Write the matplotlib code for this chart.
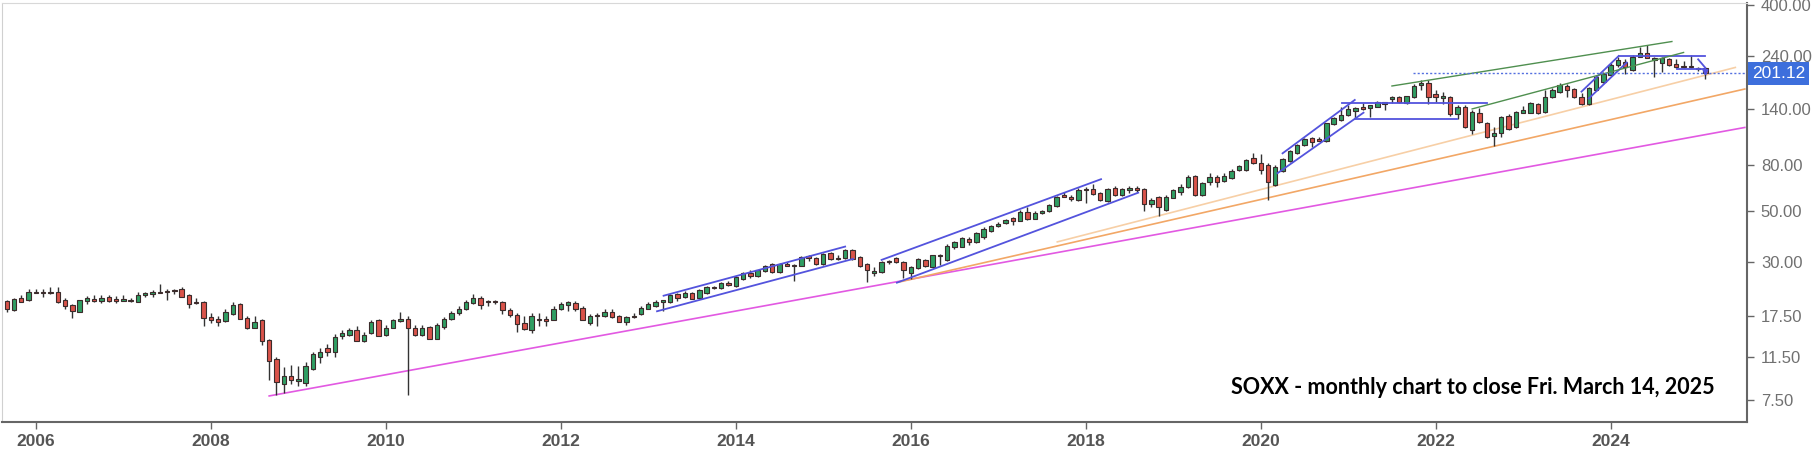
import matplotlib
matplotlib.use('Agg')
import matplotlib.pyplot as plt
import numpy as np
import pandas as pd

# monthly candles, Oct 2005 .. Mar 2025
opens = [
    20.2, 18.5, 21.0, 20.4, 22.3, 22.1, 21.9, 22.3, 20.4, 19.5, 18.2, 20.3,
    20.7, 20.3, 21.1, 20.8, 20.3, 20.4, 20.1, 21.6, 21.8, 22.3, 22.2, 22.4,
    23.0, 21.5, 20.0, 20.1, 17.2, 16.9, 16.6, 17.8, 19.6, 17.1, 15.5, 16.7,
    13.7, 11.3, 8.81, 9.55, 9.05, 8.87, 10.2, 11.6, 12.6, 12.1, 14.2, 14.4,
    15.1, 13.5, 14.7, 16.8, 14.4, 15.5, 16.6, 16.9, 15.5, 14.4, 15.6, 13.9,
    15.6, 17.0, 17.9, 18.7, 19.8, 21.0, 20.0, 20.3, 20.0, 18.6, 17.7, 16.2,
    15.1, 16.8, 17.0, 16.8, 18.7, 19.4, 19.8, 19.0, 16.2, 17.7, 17.5, 18.1,
    17.5, 16.4, 17.2, 17.8, 18.8, 19.2, 20.0, 20.0, 21.8, 21.1, 22.1, 21.0,
    22.0, 23.3, 23.1, 24.3, 23.7, 25.3, 26.9, 26.0, 27.4, 29.4, 27.2, 29.6,
    28.9, 29.0, 31.8, 31.3, 29.5, 32.9, 31.3, 31.2, 34.0, 31.7, 29.5, 26.9,
    27.2, 30.0, 31.2, 30.1, 27.0, 28.3, 30.7, 28.7, 31.8, 30.7, 34.8, 35.1,
    38.0, 36.6, 38.8, 41.1, 43.2, 44.5, 46.7, 45.6, 49.9, 46.4, 49.4, 50.1,
    53.0, 58.8, 57.7, 56.2, 62.1, 62.7, 60.0, 55.6, 63.3, 59.0, 62.1, 63.3,
    62.7, 53.8, 58.0, 50.5, 57.5, 61.1, 63.8, 71.5, 59.0, 67.6, 71.0, 67.9,
    70.3, 75.9, 75.9, 85.9, 81.8, 79.9, 65.3, 75.4, 83.4, 89.8, 97.7, 104.4,
    103.4, 102.0, 120.7, 125.7, 132.1, 138.0, 143.6, 142.2, 143.6, 147.1, 154.8, 159.1,
    149.1, 158.6, 178.7, 182.9, 162.7, 156.5, 158.9, 133.4, 143.6, 113.6, 135.2, 121.6,
    107.0, 110.0, 131.2, 116.8, 135.2, 135.2, 147.6, 136.0, 158.9, 167.1, 176.9, 171.6,
    158.9, 147.6, 169.9, 184.8, 197.6, 218.6, 226.0, 207.9, 237.7, 247.5, 229.8, 224.0,
    231.4, 220.1, 216.4, 213.6, 213.0, 211.5,
]
highs = [
    20.4, 21.0, 21.6, 22.9, 22.9, 22.9, 23.3, 23.3, 20.9, 19.6, 20.6, 21.4,
    21.6, 21.5, 21.6, 21.4, 21.6, 21.0, 22.3, 22.3, 22.7, 24.2, 22.8, 23.0,
    23.4, 21.7, 21.0, 20.2, 17.9, 17.4, 18.7, 20.1, 19.9, 17.4, 17.5, 16.9,
    13.8, 11.6, 10.4, 10.7, 10.5, 11.0, 12.1, 12.6, 13.1, 14.6, 15.2, 15.5,
    15.8, 14.9, 16.8, 17.0, 15.9, 17.0, 18.1, 17.4, 15.9, 16.0, 15.7, 16.2,
    17.2, 18.4, 19.2, 20.5, 21.7, 21.4, 20.4, 20.4, 20.3, 19.0, 17.9, 17.4,
    17.9, 17.9, 17.4, 19.2, 20.1, 20.3, 20.2, 19.2, 17.8, 17.9, 18.7, 18.8,
    17.7, 17.4, 17.9, 19.2, 20.0, 20.4, 20.5, 21.8, 22.1, 22.5, 22.3, 22.8,
    23.6, 23.6, 24.6, 24.8, 26.2, 27.3, 27.6, 27.8, 29.3, 29.7, 29.9, 30.0,
    29.5, 31.8, 32.4, 31.6, 32.9, 33.4, 32.4, 34.4, 34.2, 32.0, 29.9, 28.7,
    30.4, 30.7, 31.6, 30.4, 28.9, 31.2, 31.0, 32.4, 32.6, 35.9, 37.2, 38.8,
    38.6, 40.7, 42.9, 43.7, 45.0, 46.2, 47.5, 50.8, 52.2, 50.4, 50.8, 53.8,
    58.4, 60.6, 58.8, 63.6, 63.8, 65.8, 61.0, 63.5, 64.8, 63.3, 64.6, 64.6,
    63.3, 57.5, 58.4, 58.8, 62.9, 66.0, 72.2, 72.2, 67.4, 73.5, 72.2, 73.5,
    76.4, 80.1, 84.8, 89.9, 89.1, 81.8, 79.9, 85.4, 92.6, 98.7, 105.1, 106.2,
    106.2, 122.4, 130.0, 143.6, 146.1, 143.6, 149.5, 146.0, 152.7, 151.2, 160.2, 159.9,
    160.2, 180.0, 187.9, 187.9, 169.9, 167.1, 160.0, 145.7, 145.7, 139.0, 141.4, 123.6,
    117.5, 130.8, 133.0, 137.4, 144.6, 151.2, 149.5, 169.9, 172.8, 181.8, 180.0, 173.9,
    165.4, 175.6, 197.0, 204.6, 222.4, 236.3, 231.4, 241.7, 262.7, 267.3, 237.7, 237.7,
    233.9, 231.4, 227.5, 241.7, 215.0, 212.9,
]
lows = [
    18.1, 18.4, 20.0, 20.3, 21.9, 21.2, 21.8, 19.8, 18.8, 17.1, 18.1, 19.6,
    20.1, 19.8, 20.1, 19.8, 20.2, 20.1, 20.0, 21.1, 21.1, 22.0, 20.4, 21.8,
    21.1, 18.9, 19.7, 15.7, 16.3, 15.7, 16.5, 17.7, 16.9, 15.3, 15.4, 13.0,
    9.14, 7.86, 8.07, 8.78, 8.63, 8.63, 10.1, 10.9, 11.7, 11.6, 13.8, 14.2,
    13.5, 13.4, 14.6, 14.2, 14.3, 15.4, 16.5, 7.88, 14.3, 14.3, 13.8, 13.8,
    15.3, 16.8, 17.7, 18.6, 19.7, 18.7, 19.3, 19.7, 17.8, 17.3, 14.9, 15.1,
    14.7, 15.7, 15.7, 16.7, 18.6, 18.3, 18.4, 16.7, 15.9, 15.8, 17.3, 17.1,
    16.4, 15.9, 17.1, 17.7, 18.7, 19.1, 18.3, 19.9, 20.3, 21.0, 20.7, 20.9,
    21.8, 22.9, 23.0, 23.7, 23.4, 25.1, 25.7, 25.8, 27.2, 27.0, 27.0, 28.8,
    24.9, 28.8, 30.5, 29.2, 29.2, 30.7, 30.7, 31.0, 30.7, 28.7, 24.5, 26.0,
    27.0, 29.4, 29.8, 25.5, 25.3, 28.0, 28.7, 28.4, 29.2, 30.4, 34.4, 34.8,
    35.7, 36.4, 37.9, 40.8, 42.9, 44.1, 43.7, 45.3, 45.9, 46.2, 48.8, 49.6,
    52.5, 57.7, 55.6, 55.8, 54.3, 58.8, 55.8, 55.2, 58.4, 58.6, 60.0, 60.7,
    50.4, 52.2, 47.8, 50.0, 57.1, 59.0, 63.2, 58.4, 58.6, 65.3, 64.2, 67.3,
    69.6, 75.2, 75.2, 80.4, 72.9, 56.2, 64.6, 74.7, 82.6, 89.2, 96.7, 95.5,
    101.7, 101.0, 119.5, 124.8, 130.8, 127.8, 139.0, 129.1, 142.8, 139.0, 149.4, 149.1,
    148.1, 156.9, 169.9, 147.6, 150.3, 148.1, 130.8, 126.9, 115.6, 109.1, 121.8, 104.4,
    96.7, 105.6, 113.6, 115.6, 134.1, 134.1, 133.4, 135.2, 157.4, 165.4, 157.9, 157.4,
    146.1, 146.6, 168.7, 181.8, 195.6, 215.0, 199.6, 206.5, 236.3, 234.0, 194.3, 204.2,
    216.4, 211.5, 211.5, 211.5, 206.5, 189.8,
]
closes = [
    18.7, 20.8, 20.1, 22.3, 22.0, 22.2, 22.3, 20.1, 19.3, 18.4, 20.4, 20.9,
    20.2, 20.9, 20.2, 20.3, 20.7, 20.3, 21.6, 22.0, 22.2, 22.1, 22.5, 22.7,
    21.2, 19.6, 19.8, 17.1, 16.7, 16.5, 18.2, 19.4, 17.0, 15.4, 16.5, 13.6,
    11.1, 9.0, 9.55, 9.17, 9.23, 10.5, 11.9, 12.2, 12.2, 14.1, 14.7, 15.2,
    13.6, 14.4, 16.5, 14.3, 15.5, 16.8, 17.0, 15.5, 14.4, 15.5, 13.9, 15.9,
    16.9, 17.9, 18.8, 20.0, 21.0, 19.5, 20.3, 20.0, 18.5, 17.6, 16.1, 15.3,
    17.5, 17.0, 16.6, 18.7, 19.6, 20.0, 18.8, 16.8, 17.4, 17.5, 18.1, 17.2,
    16.5, 17.2, 17.5, 19.0, 19.6, 20.0, 20.4, 21.5, 21.0, 22.1, 20.8, 22.6,
    23.3, 23.1, 24.4, 23.9, 25.9, 26.9, 26.0, 27.6, 28.9, 27.2, 29.6, 29.0,
    29.3, 31.6, 31.3, 29.5, 32.5, 31.0, 30.9, 33.9, 31.0, 29.0, 27.8, 27.5,
    30.1, 30.4, 30.2, 27.8, 28.5, 30.9, 28.9, 32.1, 32.2, 35.4, 36.8, 38.2,
    36.6, 40.3, 41.8, 43.2, 44.1, 45.9, 45.2, 49.9, 46.2, 49.4, 50.4, 53.2,
    58.0, 58.0, 56.8, 62.1, 62.7, 59.4, 56.2, 63.0, 59.0, 62.7, 63.3, 62.1,
    53.8, 56.2, 52.2, 58.0, 62.1, 64.2, 71.0, 59.0, 66.4, 71.0, 67.6, 71.5,
    75.2, 79.1, 84.0, 81.3, 75.9, 67.6, 78.6, 84.6, 91.7, 97.7, 103.7, 100.4,
    102.0, 121.6, 128.3, 132.1, 140.0, 141.4, 140.4, 145.7, 151.2, 150.3, 158.6, 150.3,
    159.9, 176.9, 182.9, 157.9, 158.9, 160.0, 133.4, 143.6, 116.8, 136.7, 122.5, 105.6,
    110.0, 129.2, 114.5, 135.6, 139.0, 148.6, 135.2, 158.9, 169.9, 178.7, 169.9, 158.9,
    147.6, 172.8, 194.3, 199.0, 218.6, 229.8, 215.0, 237.7, 247.5, 235.4, 233.9, 233.9,
    218.6, 213.6, 213.6, 216.4, 209.6, 201.12,
]

year_labels = ['2006', '2008', '2010', '2012', '2014', '2016', '2018', '2020', '2022', '2024']
price_ticks = [7.5, 11.5, 17.5, 30, 50, 80, 140, 240, 400]
title = 'SOXX - monthly chart to close Fri. March 14, 2025'

# drawn trend lines: ((bar index, price), (bar index, price))
support_line = ((36.0, 7.8), (238.4, 116.5))
orange_lines = [((122.5, 24.6), (238.4, 171.6)), ((144.1, 36.8), (237.1, 213.2))]
blue_lines = [
    ((90.1, 21.4), (115.0, 35.1)), ((89.2, 18.3), (116.1, 31.0)),
    ((120.0, 30.7), (150.1, 69.2)), ((122.1, 24.4), (155.2, 60.4)),
    ((175.0, 89.8), (184.9, 153.7)), ((174.3, 73.5), (186.1, 135.2)),
    ((183.1, 148.6), (203.0, 148.6)), ((185.0, 127.3), (198.9, 127.3)),
    ((216.0, 167.1), (221.1, 239.3)), ((217.0, 156.0), (222.2, 224.0)),
    ((221.1, 239.3), (233.0, 239.3)), ((229.1, 210.0), (233.0, 210.0)),
    ((232.0, 231.4), (233.0, 212.2)),
]
green_lines = [((190.0, 176.9), (228.4, 276.8)), ((201.0, 140.4), (230.0, 247.9))]

months = pd.period_range('2005-10', periods=len(closes), freq='M')
x = np.arange(len(months))
o = np.array(opens); h = np.array(highs); l = np.array(lows); c = np.array(closes)
year_pos = [np.where((months.year == int(y)) & (months.month == 1))[0][0] + 1 for y in year_labels]

W, H = 1813, 449
fig = plt.figure(figsize=(W / 100, H / 100), dpi=100)
ax = fig.add_axes([2 / W, 27 / H, 1745 / W, 419 / H])
ax.set_yscale('log')
ax.set_xlim(-0.645, 238.7)
ax.set_ylim(6.0, 408)

# trend lines
(a, b) = support_line
ax.plot([a[0], b[0]], [a[1], b[1]], color='#e259e2', lw=1.2, zorder=2)
for (a, b), col in zip(orange_lines, ['#f2a766', '#f7cfa6']):
    ax.plot([a[0], b[0]], [a[1], b[1]], color=col, lw=1.2, zorder=2)

# candles
up = c >= o
colors = np.where(up, '#2f9e63', '#d9534a')
ax.vlines(x, l, h, color='#333333', lw=1.0, zorder=3)
ax.bar(x, np.abs(c - o), bottom=np.minimum(o, c), width=0.6, color=colors,
       edgecolor='#3b2b2b', linewidth=0.8, zorder=4)

for a, b in blue_lines:
    ax.plot([a[0], b[0]], [a[1], b[1]], color='#5353dd', lw=1.3, zorder=5)
for a, b in green_lines:
    ax.plot([a[0], b[0]], [a[1], b[1]], color='#4f8f4f', lw=1.0, zorder=5)
ax.annotate('', xy=(233.0, 190.0), xytext=(233.0, 212.2),
            arrowprops=dict(arrowstyle='-|>', color='#5353dd', lw=1.2, mutation_scale=8), zorder=6)

last_close = closes[-1]
ax.hlines(last_close, 192.9, 238.7, colors='#5470e0', linestyles=(0, (1.5, 1.5)), lw=1.0, zorder=5)

# axes look
ax.yaxis.tick_right()
ax.set_yticks(price_ticks)
ax.set_yticklabels(['%.2f' % p for p in price_ticks])
ax.yaxis.set_minor_locator(matplotlib.ticker.NullLocator())
ax.tick_params(axis='y', labelsize=12, labelcolor='#707070', color='#666666',
               length=5, width=1, pad=5)
for t in ax.get_yticklabels():
    t.set_fontfamily('Liberation Sans')
ax.set_xticks(year_pos)
ax.set_xticklabels(year_labels, fontweight='bold', fontfamily='Liberation Sans')
ax.tick_params(axis='x', labelsize=12.5, labelcolor='#555555', color='#666666',
               length=5, width=1, pad=4)
for s in ['bottom', 'right']:
    ax.spines[s].set_color('#666666')
    ax.spines[s].set_linewidth(1.5)
ax.spines['left'].set_color('#d0d0d0')
ax.spines['top'].set_color('#d8d8d8')

ax.text(1.003, last_close, '%.2f' % last_close, transform=ax.get_yaxis_transform(),
        ha='left', va='center', color='white', fontsize=12.5, family='Liberation Sans',
        bbox=dict(boxstyle='square,pad=0.22', fc='#3d6fdc', ec='none'), clip_on=False, zorder=10)

fig.text(1231 / W, 1 - 388 / H, title, ha='left', va='center', fontsize=15.5,
         fontweight='bold', family='Lato', color='black')

fig.savefig('out.png', dpi=100)
